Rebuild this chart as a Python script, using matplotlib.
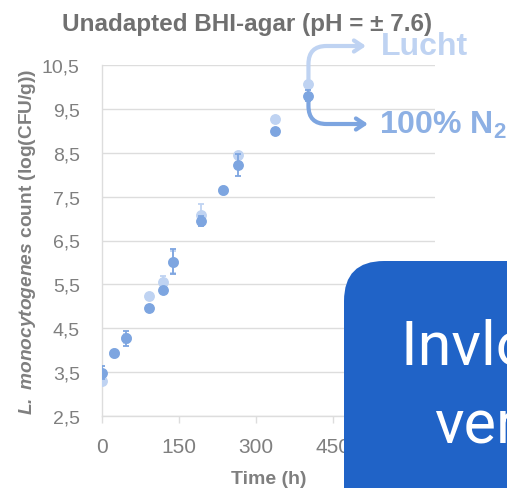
import matplotlib
matplotlib.use("Agg")
import matplotlib.pyplot as plt
from matplotlib.patches import FancyBboxPatch

plt.rcParams["font.family"] = ["Liberation Sans", "DejaVu Sans"]
plt.rcParams["mathtext.fontset"] = "custom"
plt.rcParams["mathtext.rm"] = "Liberation Sans:bold"
plt.rcParams["mathtext.it"] = "Liberation Sans:italic"
plt.rcParams["mathtext.bf"] = "Liberation Sans:bold"
plt.rcParams["mathtext.bfit"] = "Liberation Sans:italic:bold"

# Sampling times (h) and counts (log CFU/g)
time_h = [0, 23, 47, 92, 119, 139, 194, 236, 265, 337, 403]
lucht = [3.30, 3.93, 4.27, 5.24, 5.55, 6.02, 7.09, 7.64, 8.45, 9.27, 10.07]
lucht_err = [0.05, 0.05, 0.10, 0.05, 0.13, 0.25, 0.24, 0.05, 0.05, 0.05, 0.05]
n2 = [3.49, 3.94, 4.27, 4.96, 5.37, 6.02, 6.95, 7.64, 8.23, 9.00, 9.80]
n2_err = [0.14, 0.05, 0.17, 0.05, 0.05, 0.28, 0.11, 0.05, 0.25, 0.05, 0.13]

x_ticks = [0, 150, 300, 450, 600]
y_ticks = [2.5, 3.5, 4.5, 5.5, 6.5, 7.5, 8.5, 9.5, 10.5]
y_ticklabels = ["2,5", "3,5", "4,5", "5,5", "6,5", "7,5", "8,5", "9,5", "10,5"]

C_LUCHT = "#BFD3F2"
C_N2 = "#7DA5E0"
GRID = "#DDDDDD"
TXT = "#7F7F7F"

W, H = 507, 489
fig = plt.figure(figsize=(W / 100, H / 100), dpi=100)
ax = fig.add_axes([102 / W, 1 - 417 / H, (435 - 102) / W, (417 - 66) / H])

ax.errorbar(time_h, lucht, yerr=lucht_err, fmt="o", ms=6.8, color=C_LUCHT,
            ecolor=C_LUCHT, elinewidth=1.3, capsize=2.5, capthick=1.3, zorder=3)
ax.errorbar(time_h, n2, yerr=n2_err, fmt="o", ms=6.8, color=C_N2,
            ecolor=C_N2, elinewidth=1.3, capsize=2.5, capthick=1.3, zorder=4)

ax.set_xlim(0, 650)
ax.set_ylim(2.5, 10.5)
ax.set_xticks(x_ticks)
ax.set_yticks(y_ticks)
ax.set_yticklabels(y_ticklabels)
ax.grid(axis="y", color=GRID, lw=1)
ax.set_axisbelow(True)
for s in ["top", "right"]:
    ax.spines[s].set_visible(False)
for s in ["left", "bottom"]:
    ax.spines[s].set_color(GRID)
    ax.spines[s].set_linewidth(1)
ax.tick_params(axis="x", colors=GRID, length=5, width=1, pad=10, labelsize=15,
               labelcolor=TXT)
ax.tick_params(axis="y", length=0, pad=16, labelsize=14, labelcolor=TXT)

ax.set_xlabel("Time (h)", fontsize=14, fontweight="bold", color=TXT, labelpad=10)
ax.set_ylabel(r"$\mathbfit{L.\ monocytogenes}$ count (log(CFU/g))",
              fontsize=13.8, fontweight="bold", color=TXT, labelpad=3)
fig.text(247 / W, 1 - 24 / H, "Unadapted BHI-agar (pH = \u00b1 7.6)",
         ha="center", va="center", fontsize=17.5, fontweight="bold", color="#707070")

# Curved arrows from the last sample to the series names
ax.annotate("", xy=(366, H - 47), xycoords="figure pixels",
            xytext=(time_h[-1], lucht[-1]), textcoords="data",
            arrowprops=dict(arrowstyle="->,head_length=0.6,head_width=0.4",
                            connectionstyle="angle,angleA=90,angleB=0,rad=18",
                            color=C_LUCHT, lw=3, shrinkA=2, shrinkB=0),
            zorder=5)
ax.annotate("", xy=(368, H - 125), xycoords="figure pixels",
            xytext=(time_h[-1], n2[-1]), textcoords="data",
            arrowprops=dict(arrowstyle="->,head_length=0.6,head_width=0.4",
                            connectionstyle="angle,angleA=-90,angleB=0,rad=18",
                            color=C_N2, lw=3, shrinkA=2, shrinkB=0),
            zorder=5)
fig.text(381 / W, 1 - 47 / H, "Lucht", ha="left", va="center",
         fontsize=23, fontweight="bold", color=C_LUCHT)
fig.text(379 / W, 1 - 125 / H, "100% N$_2$", ha="left", va="center",
         fontsize=23, fontweight="bold", color="#8DB0E4")

# Rounded banner in the lower right
box = FancyBboxPatch((344, -60), 260, (H - 262) + 60,
                     boxstyle="round,pad=0,rounding_size=40",
                     transform=None, facecolor="#2063C7", edgecolor="none",
                     zorder=10)
fig.patches.append(box)
fig.text(401 / W, 1 - 365 / H, "Invloed van", ha="left", va="baseline",
         fontsize=44, color="white", family="Roboto", zorder=11)
fig.text(434 / W, 1 - 443 / H, "verpakking", ha="left", va="baseline",
         fontsize=44, color="white", family="Roboto", zorder=11)

fig.savefig("out.png", dpi=100)
